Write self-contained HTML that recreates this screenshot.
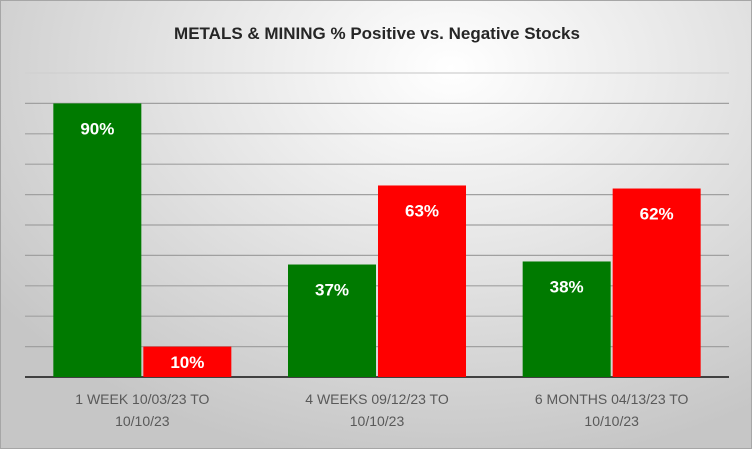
<!DOCTYPE html>
<html><head><meta charset="utf-8"><style>
body{margin:0;}
#chart{position:relative;width:752px;height:449px;overflow:hidden;background:radial-gradient(ellipse 75% 90% at 60% 15%,#ffffff 0%,#e6e6e6 45%,#c6c6c6 100%);font-family:"Liberation Sans",sans-serif;box-sizing:border-box;border:1px solid #a6a6a6;}
svg text{font-family:"Liberation Sans",sans-serif;}
</style></head><body>
<div id="chart">
<svg id="svg" width="752" height="449">
<text x="376" y="38" text-anchor="middle" font-size="17" font-weight="bold" fill="#262626">METALS &amp; MINING % Positive vs. Negative Stocks</text>
<g id="grid"></g><g id="bars"></g><g id="labels"></g>
</svg></div>
<script>
const categories=[["1 WEEK 10/03/23 TO","10/10/23"],["4 WEEKS 09/12/23 TO","10/10/23"],["6 MONTHS 04/13/23 TO","10/10/23"]];
const positive=[90,37,38];
const negative=[10,63,62];
const gridTicks=[0,10,20,30,40,50,60,70,80,90,100];
const L=24,R=728,Y0=376,Y100=72;
const y=v=>Y0-(Y0-Y100)*v/100;
const cw=(R-L)/categories.length, bw=88;
const ns="http://www.w3.org/2000/svg";
function mk(t,a,p){const e=document.createElementNS(ns,t);for(const k in a)e.setAttribute(k,a[k]);p.appendChild(e);return e;}
const g=document.getElementById('grid'),b=document.getElementById('bars'),lb=document.getElementById('labels');
gridTicks.forEach(v=>{if(v===0)return;const l=mk('line',{x1:L,x2:R,y1:y(v),y2:y(v),stroke:v===100?'#d0d0d0':'#a0a0a0','stroke-width':1.2},g);

});
const ax=mk('line',{x1:L,x2:R,y1:Y0,y2:Y0,stroke:'#404040','stroke-width':2},g);


categories.forEach((c,i)=>{const cx=L+cw*(i+0.5);
[[positive[i],'#007a00',cx-bw-1,'positive'],[negative[i],'#ff0000',cx+1,'negative']].forEach(([v,col,x,s])=>{
const top=y(v),h=Y0-top;
const r=mk('rect',{x:x,y:top,width:bw,height:h,fill:col},b);


const ty=Math.min(top+31,top+h/2+6);
const t=mk('text',{x:x+bw/2,y:ty,'text-anchor':'middle','font-size':17,'font-weight':'bold',fill:'#ffffff'},lb);
t.textContent=v+'%';

});
c.forEach((line,j)=>{const t=mk('text',{x:cx,y:403+j*22,'text-anchor':'middle','font-size':14,fill:'#595959'},lb);
t.textContent=line;

});});
</script>
</body></html>
